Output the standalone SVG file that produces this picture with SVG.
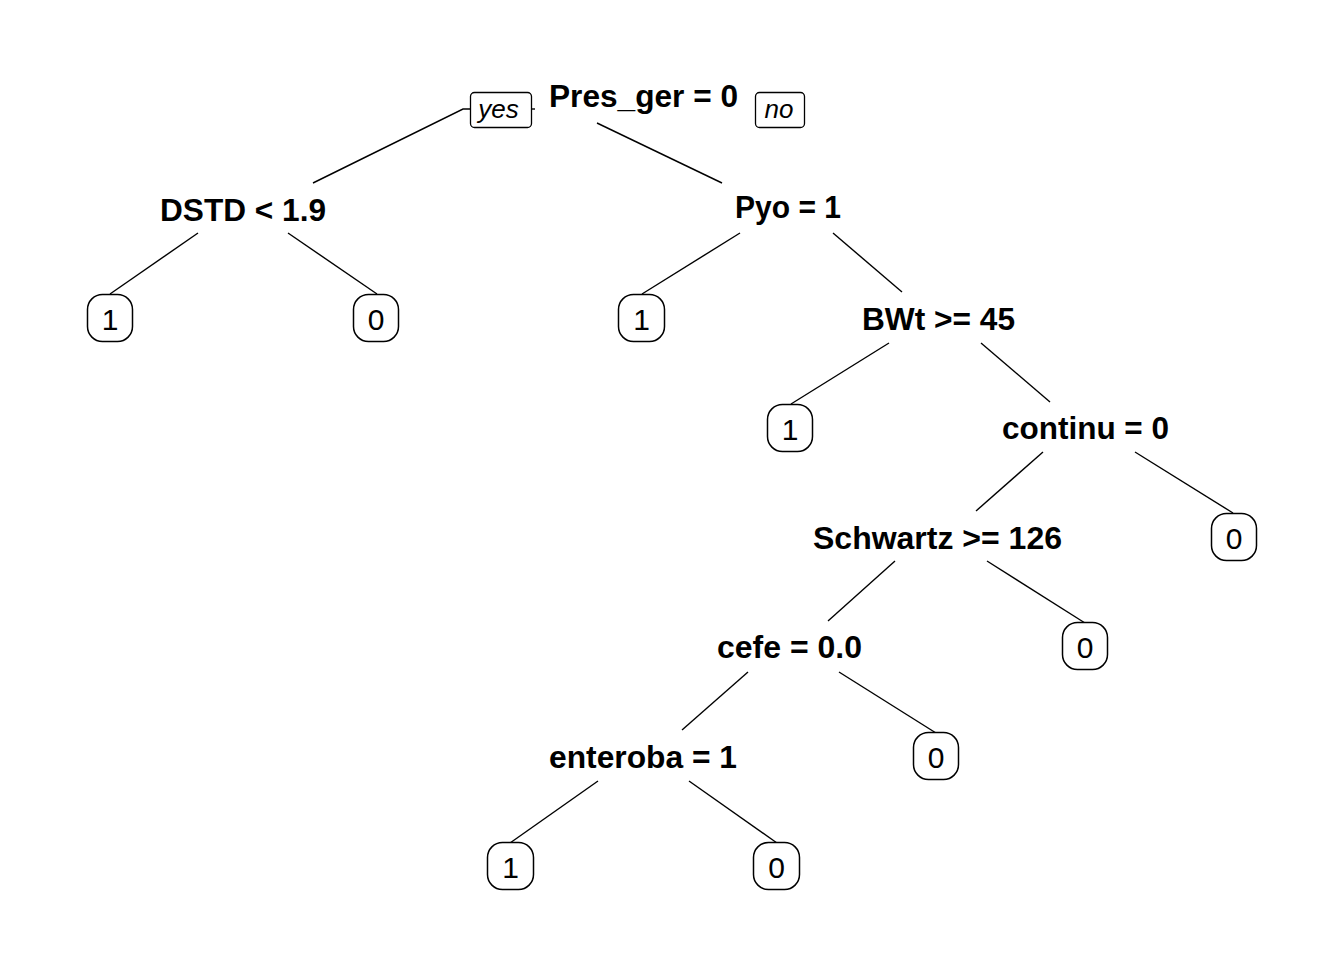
<svg xmlns="http://www.w3.org/2000/svg" width="1344" height="960" viewBox="0 0 1344 960">
<style>
.bg{fill:#fff}
.split{font-family:"Liberation Sans",Arial,sans-serif;font-weight:bold;font-size:31px;fill:#000;text-anchor:middle}
.leaf rect{fill:#fff;stroke:#000;stroke-width:1.5}
.leaf text{font-family:"Liberation Sans",Arial,sans-serif;font-size:30px;fill:#000;text-anchor:middle}
.lab rect{fill:#fff;stroke:#000;stroke-width:1.3}
.lab text{font-family:"Liberation Sans",Arial,sans-serif;font-style:italic;font-size:26px;fill:#000;text-anchor:middle}
#connectors line,#connectors polyline{stroke:#000;stroke-width:1.4;fill:none}
</style>
<rect class="bg" width="1344" height="960"/>
<g id="connectors">
<polyline points="313,183 463,109 470,109"/>
<line x1="531" y1="109" x2="535" y2="109"/>
<line x1="597" y1="123" x2="722" y2="183"/>
<line x1="198" y1="233" x2="110" y2="294"/>
<line x1="288" y1="233" x2="377" y2="294"/>
<line x1="740" y1="233" x2="642" y2="294"/>
<line x1="833" y1="233" x2="902" y2="292"/>
<line x1="889" y1="343" x2="791" y2="404"/>
<line x1="981" y1="343" x2="1050" y2="402"/>
<line x1="1043" y1="452" x2="976" y2="511"/>
<line x1="1135" y1="452" x2="1233" y2="513"/>
<line x1="895" y1="561" x2="828" y2="621"/>
<line x1="987" y1="561" x2="1085" y2="623"/>
<line x1="748" y1="672" x2="682" y2="730"/>
<line x1="839" y1="672" x2="936" y2="733"/>
<line x1="598" y1="781" x2="510" y2="843"/>
<line x1="689" y1="781" x2="777" y2="843"/>
</g>
<g id="n1"><text class="split" x="643.5" y="107" textLength="189" lengthAdjust="spacingAndGlyphs">Pres_ger = 0</text></g>
<g id="yes" class="lab"><rect x="470.5" y="92.5" width="61" height="35" rx="4"/><text x="498.5" y="118">yes</text></g>
<g id="no" class="lab"><rect x="755.5" y="92.5" width="49" height="35" rx="4"/><text x="779" y="118">no</text></g>
<g id="n2"><text class="split" x="243" y="221" textLength="166" lengthAdjust="spacingAndGlyphs">DSTD &lt; 1.9</text></g>
<g id="n3"><text class="split" x="788" y="218" textLength="106" lengthAdjust="spacingAndGlyphs">Pyo = 1</text></g>
<g id="n4" class="leaf"><rect x="87.5" y="294.5" width="45" height="47" rx="15"/><text x="110" y="330">1</text></g>
<g id="n5" class="leaf"><rect x="353.5" y="294.5" width="45" height="47" rx="15"/><text x="376" y="330">0</text></g>
<g id="n6" class="leaf"><rect x="618.5" y="294.5" width="46" height="47" rx="15"/><text x="641.5" y="330">1</text></g>
<g id="n7"><text class="split" x="938.5" y="330" textLength="153" lengthAdjust="spacingAndGlyphs">BWt &gt;= 45</text></g>
<g id="n8" class="leaf"><rect x="767.5" y="404.5" width="45" height="47" rx="15"/><text x="790" y="440">1</text></g>
<g id="n9"><text class="split" x="1085.5" y="439" textLength="167" lengthAdjust="spacingAndGlyphs">continu = 0</text></g>
<g id="n10"><text class="split" x="937.5" y="549" textLength="249" lengthAdjust="spacingAndGlyphs">Schwartz &gt;= 126</text></g>
<g id="n11" class="leaf"><rect x="1211.5" y="513.5" width="45" height="47" rx="15"/><text x="1234" y="549">0</text></g>
<g id="n12"><text class="split" x="789.5" y="658" textLength="145" lengthAdjust="spacingAndGlyphs">cefe = 0.0</text></g>
<g id="n13" class="leaf"><rect x="1062.5" y="622.5" width="45" height="47" rx="15"/><text x="1085" y="658">0</text></g>
<g id="n14"><text class="split" x="643" y="768" textLength="188" lengthAdjust="spacingAndGlyphs">enteroba = 1</text></g>
<g id="n15" class="leaf"><rect x="913.5" y="732.5" width="45" height="47" rx="15"/><text x="936" y="768">0</text></g>
<g id="n16" class="leaf"><rect x="487.5" y="842.5" width="46" height="47" rx="15"/><text x="510.5" y="878">1</text></g>
<g id="n17" class="leaf"><rect x="753.5" y="842.5" width="46" height="47" rx="15"/><text x="776.5" y="878">0</text></g>
</svg>
